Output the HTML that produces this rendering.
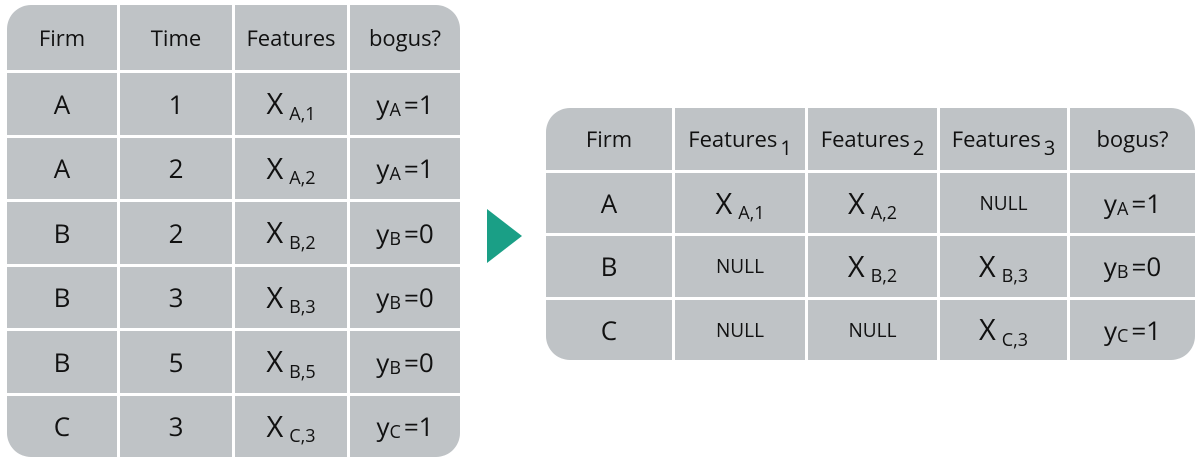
<!DOCTYPE html>
<html><head><meta charset="utf-8"><style>
body{margin:0;width:1200px;height:460px;background:#fff;position:relative;overflow:hidden;font-family:"Open Sans","Liberation Sans","DejaVu Sans",sans-serif;color:#111}
.t{position:absolute;display:grid;gap:3px;background:#fff;border-radius:24px;overflow:hidden}
.t div{background:#bfc3c6;display:flex;align-items:center;justify-content:center;font-size:26px;white-space:nowrap}
.t .h{font-size:22px}
.t .n{font-size:19px}
.x{font-size:29px}
sub{font-size:18px;position:relative;top:10px;margin-left:6px}
.ys{font-size:18px;position:relative;top:6px;margin-right:3px}
#left{left:7px;top:5px;width:453px;height:452px;grid-template-columns:110px 112px 112px 110px;grid-template-rows:65px repeat(6,1fr)}
#right{left:546px;top:108px;width:649px;height:252px;grid-template-columns:126px 130px 129px 127px 125px;grid-template-rows:62px repeat(3,1fr)}
.hs{font-size:20px;position:relative;top:8px;margin-left:3px}
</style></head><body>
<div class="t" id="left">
<div class="h">Firm</div>
<div class="h">Time</div>
<div class="h">Features</div>
<div class="h">bogus?</div>
<div>A</div><div>1</div><div><span class="x">X</span><sub>A,1</sub></div><div>y<span class="ys">A</span>=1</div>
<div>A</div><div>2</div><div><span class="x">X</span><sub>A,2</sub></div><div>y<span class="ys">A</span>=1</div>
<div>B</div><div>2</div><div><span class="x">X</span><sub>B,2</sub></div><div>y<span class="ys">B</span>=0</div>
<div>B</div><div>3</div><div><span class="x">X</span><sub>B,3</sub></div><div>y<span class="ys">B</span>=0</div>
<div>B</div><div>5</div><div><span class="x">X</span><sub>B,5</sub></div><div>y<span class="ys">B</span>=0</div>
<div>C</div><div>3</div><div><span class="x">X</span><sub>C,3</sub></div><div>y<span class="ys">C</span>=1</div>
</div>
<svg style="position:absolute;left:486px;top:208px" width="38" height="56"><polygon points="1,1 36,28 1,55" fill="#1a9f86"/></svg>
<div class="t" id="right">
<div class="h">Firm</div>
<div class="h">Features<span class="hs">1</span></div>
<div class="h">Features<span class="hs">2</span></div>
<div class="h">Features<span class="hs">3</span></div>
<div class="h">bogus?</div>
<div>A</div><div><span class="x">X</span><sub>A,1</sub></div><div><span class="x">X</span><sub>A,2</sub></div><div class="n">NULL</div><div>y<span class="ys">A</span>=1</div>
<div>B</div><div class="n">NULL</div><div><span class="x">X</span><sub>B,2</sub></div><div><span class="x">X</span><sub>B,3</sub></div><div>y<span class="ys">B</span>=0</div>
<div>C</div><div class="n">NULL</div><div class="n">NULL</div><div><span class="x">X</span><sub>C,3</sub></div><div>y<span class="ys">C</span>=1</div>
</div>
</body></html>
